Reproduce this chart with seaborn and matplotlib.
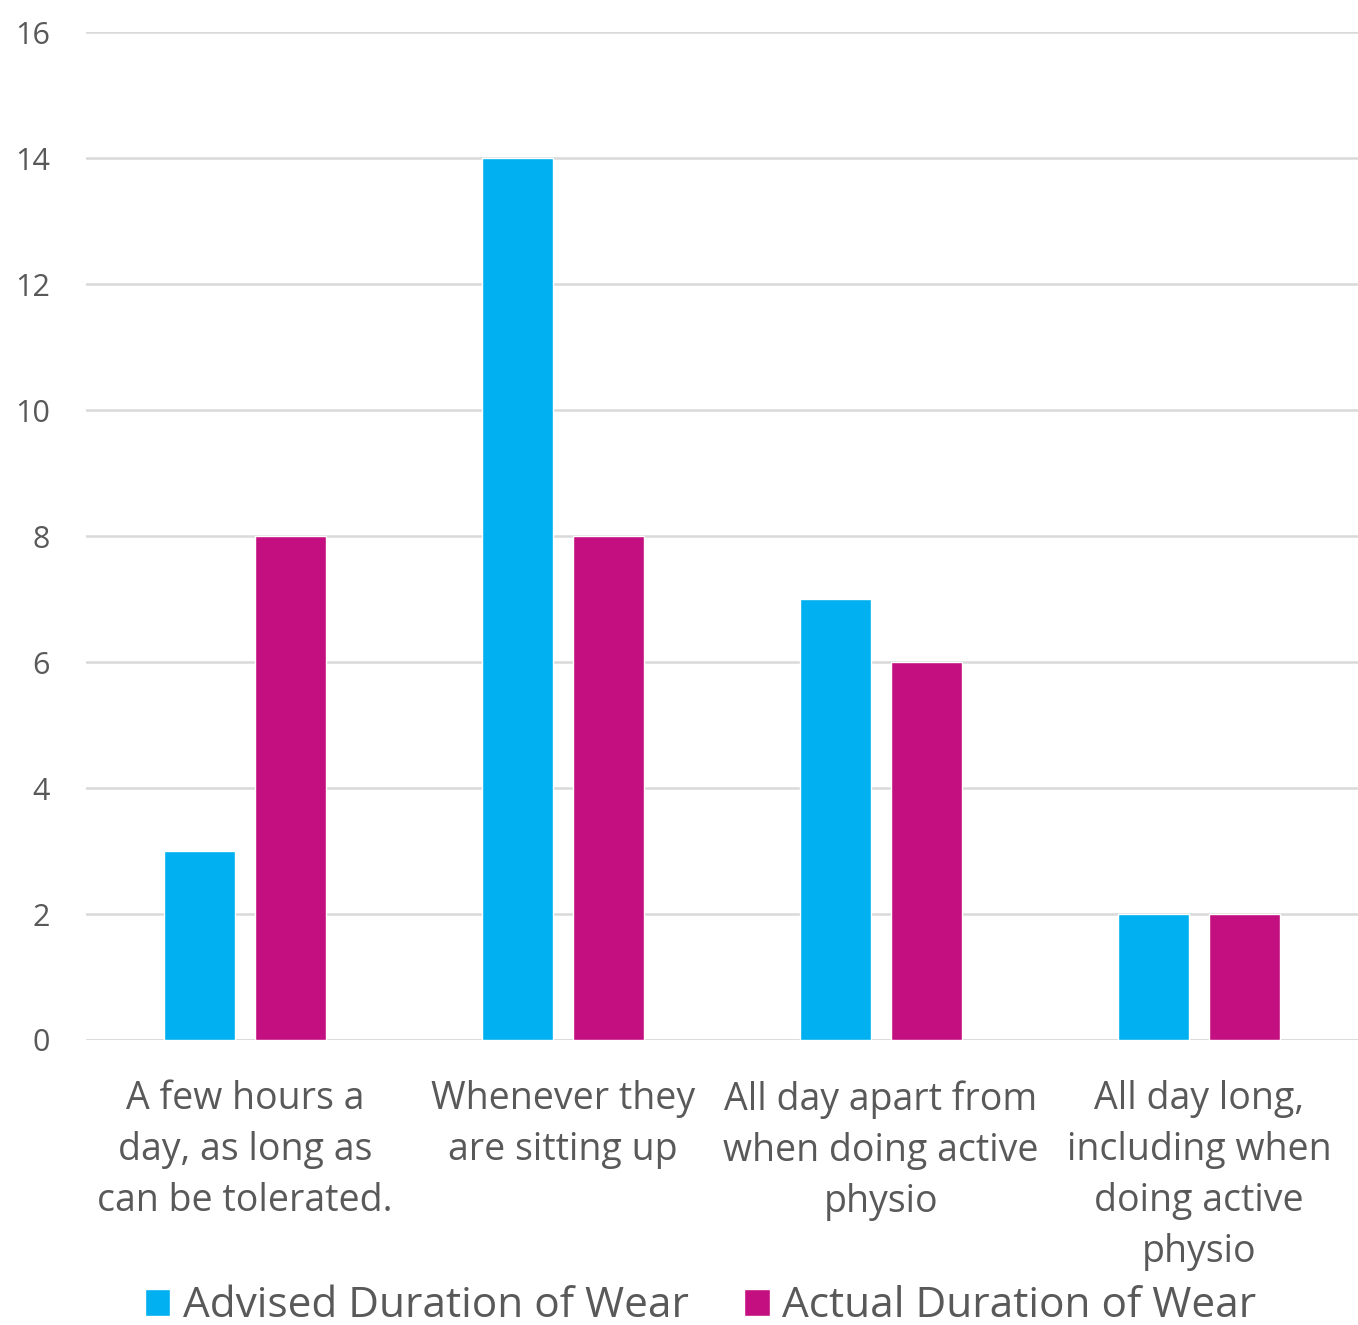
import matplotlib
matplotlib.use("Agg")
import matplotlib.pyplot as plt
import seaborn as sns
import pandas as pd

categories = [
    "A few hours a\nday, as long as\ncan be tolerated.",
    "Whenever they\nare sitting up",
    "All day apart from\nwhen doing active\nphysio",
    "All day long,\nincluding when\ndoing active\nphysio",
]
series_names = ["Advised Duration of Wear", "Actual Duration of Wear"]
advised = [3, 14, 7, 2]
actual = [8, 8, 6, 2]
colors = ["#00B0F0", "#C40F80"]

df = pd.DataFrame({
    "category": categories * 2,
    "series": [series_names[0]] * 4 + [series_names[1]] * 4,
    "value": advised + actual,
})

sns.set_theme(style="white")
plt.rcParams["font.family"] = ["Open Sans", "DejaVu Sans"]

fig = plt.figure(figsize=(13.58, 13.25), dpi=100)
ax = fig.add_axes([0.0633, 0.2151, 0.9367, 0.7607])

sns.barplot(data=df, x="category", y="value", hue="series", palette=colors,
            width=0.572, gap=0.22, ax=ax, saturation=1, legend=True)

ax.set_ylim(0, 16)
ax.set_yticks(range(0, 17, 2))
ax.set_xlim(-0.5, 3.5)
ax.yaxis.grid(True, color="#D9D9D9", linewidth=1.8)
ax.set_axisbelow(True)
for s in ax.spines.values():
    s.set_visible(False)
ax.axhline(0, color="#D9D9D9", linewidth=1.8, zorder=0)
ax.set_xlabel("")
ax.set_ylabel("")
ax.tick_params(axis="y", labelsize=22, colors="#595959", length=0, pad=26)
ax.tick_params(axis="x", labelsize=27, colors="#595959", length=0, pad=29)
for lbl in ax.get_xticklabels():
    lbl.set_linespacing(1.45)

handles, labels = ax.get_legend_handles_labels()
ax.get_legend().remove()
fig.legend(handles, labels, loc="center", bbox_to_anchor=(0.516, 0.014),
           ncol=2, frameon=False, fontsize=30.5, labelcolor="#595959",
           handlelength=0.6, handleheight=0.6, handletextpad=0.3,
           columnspacing=1.3)

fig.savefig("out.png", dpi=100)
